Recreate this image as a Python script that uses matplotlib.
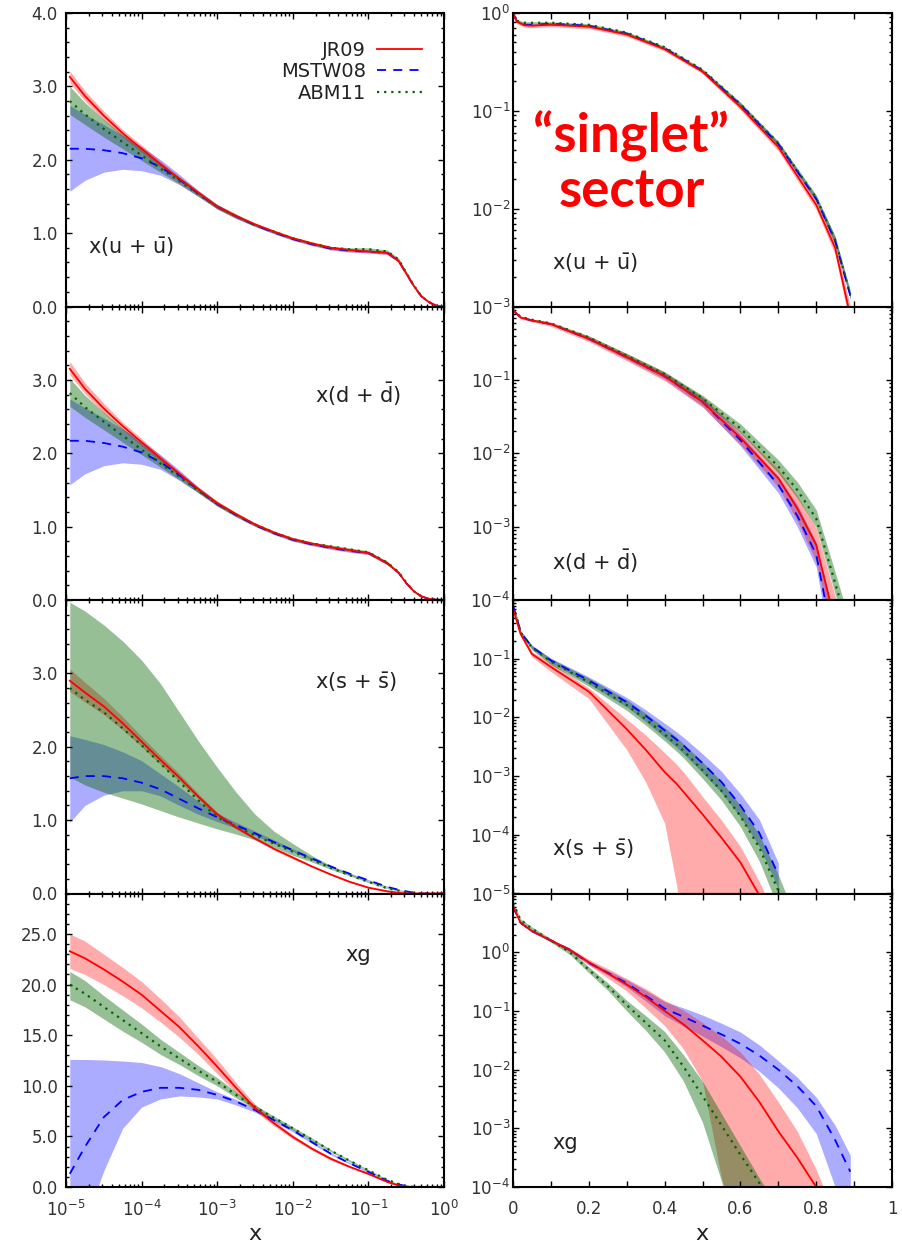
import numpy as np
import matplotlib
matplotlib.use("Agg")
import matplotlib.pyplot as plt
from matplotlib.ticker import MultipleLocator, LogLocator, FuncFormatter, NullFormatter
from matplotlib.lines import Line2D

plt.rcParams["font.family"] = ["DejaVu Sans"]
plt.rcParams["mathtext.fontset"] = "dejavusans"

RED = "#ff0000"
BLUE = "#0000ff"
GREEN = "#006400"

# ---- left column: log10(x) grid, linear y ----
LX = [-4.95, -4.75, -4.5, -4.25, -4.0, -3.75, -3.5, -3.25, -3.0, -2.75, -2.5, -2.25,
      -2.0, -1.75, -1.5, -1.25, -1.0, -0.75, -0.6, -0.5, -0.4, -0.3, -0.2, -0.1, 0.0]

U_JR    = [3.13, 2.87, 2.60, 2.36, 2.15, 1.94, 1.74, 1.55, 1.36, 1.23, 1.12, 1.02, 0.93, 0.86, 0.80, 0.77, 0.75, 0.73, 0.62, 0.45, 0.28, 0.14, 0.06, 0.01, 0.0]
U_JR_LO = [3.05, 2.80, 2.54, 2.31, 2.10, 1.90, 1.71, 1.52, 1.33, 1.21, 1.10, 1.00, 0.91, 0.84, 0.78, 0.75, 0.73, 0.71, 0.60, 0.43, 0.27, 0.13, 0.05, 0.01, 0.0]
U_JR_HI = [3.21, 2.94, 2.66, 2.41, 2.20, 1.98, 1.77, 1.58, 1.39, 1.26, 1.14, 1.04, 0.95, 0.88, 0.82, 0.79, 0.77, 0.75, 0.64, 0.47, 0.29, 0.15, 0.07, 0.01, 0.0]
U_MS    = [2.15, 2.15, 2.13, 2.09, 2.02, 1.90, 1.73, 1.54, 1.36, 1.23, 1.11, 1.01, 0.92, 0.85, 0.79, 0.76, 0.75, 0.73, 0.62, 0.45, 0.28, 0.14, 0.06, 0.01, 0.0]
U_MS_LO = [1.57, 1.72, 1.83, 1.87, 1.85, 1.79, 1.66, 1.50, 1.33, 1.20, 1.09, 0.99, 0.90, 0.83, 0.77, 0.74, 0.73, 0.71, 0.60, 0.44, 0.27, 0.13, 0.05, 0.01, 0.0]
U_MS_HI = [2.74, 2.62, 2.48, 2.33, 2.18, 2.00, 1.80, 1.58, 1.39, 1.25, 1.13, 1.03, 0.94, 0.87, 0.81, 0.78, 0.77, 0.75, 0.64, 0.46, 0.29, 0.15, 0.07, 0.01, 0.0]
U_AB    = [2.80, 2.62, 2.42, 2.24, 2.06, 1.88, 1.71, 1.53, 1.36, 1.23, 1.11, 1.02, 0.93, 0.86, 0.80, 0.78, 0.78, 0.75, 0.64, 0.46, 0.29, 0.14, 0.06, 0.01, 0.0]
U_AB_LO = [2.62, 2.48, 2.31, 2.15, 1.99, 1.83, 1.67, 1.50, 1.33, 1.20, 1.09, 1.00, 0.91, 0.84, 0.78, 0.76, 0.76, 0.73, 0.62, 0.45, 0.28, 0.13, 0.05, 0.01, 0.0]
U_AB_HI = [3.00, 2.78, 2.55, 2.34, 2.14, 1.94, 1.76, 1.57, 1.39, 1.26, 1.13, 1.04, 0.95, 0.88, 0.82, 0.80, 0.80, 0.77, 0.66, 0.48, 0.30, 0.15, 0.07, 0.01, 0.0]

D_JR    = [3.15, 2.88, 2.61, 2.37, 2.15, 1.93, 1.72, 1.51, 1.32, 1.17, 1.03, 0.92, 0.83, 0.77, 0.72, 0.68, 0.64, 0.50, 0.37, 0.23, 0.12, 0.05, 0.015, 0.003, 0.0]
D_JR_LO = [3.07, 2.81, 2.55, 2.32, 2.10, 1.89, 1.69, 1.48, 1.29, 1.14, 1.01, 0.90, 0.81, 0.75, 0.70, 0.66, 0.62, 0.48, 0.36, 0.22, 0.11, 0.04, 0.01, 0.0, 0.0]
D_JR_HI = [3.25, 2.96, 2.68, 2.42, 2.20, 1.97, 1.75, 1.54, 1.35, 1.19, 1.05, 0.94, 0.85, 0.79, 0.74, 0.70, 0.66, 0.52, 0.38, 0.24, 0.13, 0.06, 0.02, 0.005, 0.0]
D_MS    = [2.17, 2.17, 2.14, 2.09, 2.01, 1.88, 1.70, 1.50, 1.31, 1.16, 1.02, 0.91, 0.82, 0.76, 0.71, 0.67, 0.64, 0.50, 0.37, 0.23, 0.12, 0.05, 0.015, 0.003, 0.0]
D_MS_LO = [1.57, 1.72, 1.83, 1.87, 1.85, 1.78, 1.63, 1.46, 1.28, 1.13, 1.00, 0.89, 0.80, 0.74, 0.69, 0.65, 0.62, 0.48, 0.36, 0.22, 0.11, 0.04, 0.01, 0.0, 0.0]
D_MS_HI = [2.74, 2.62, 2.48, 2.33, 2.17, 1.98, 1.77, 1.54, 1.34, 1.18, 1.04, 0.93, 0.84, 0.78, 0.73, 0.69, 0.66, 0.52, 0.38, 0.24, 0.13, 0.06, 0.02, 0.005, 0.0]
D_AB    = [2.82, 2.63, 2.43, 2.24, 2.05, 1.86, 1.68, 1.49, 1.31, 1.16, 1.03, 0.92, 0.83, 0.77, 0.73, 0.69, 0.65, 0.51, 0.38, 0.24, 0.12, 0.05, 0.015, 0.003, 0.0]
D_AB_LO = [2.64, 2.49, 2.32, 2.15, 1.98, 1.81, 1.64, 1.46, 1.28, 1.14, 1.01, 0.90, 0.81, 0.75, 0.71, 0.67, 0.63, 0.49, 0.36, 0.23, 0.11, 0.04, 0.01, 0.0, 0.0]
D_AB_HI = [3.02, 2.79, 2.56, 2.34, 2.13, 1.92, 1.73, 1.53, 1.34, 1.19, 1.05, 0.94, 0.85, 0.79, 0.75, 0.71, 0.67, 0.53, 0.39, 0.25, 0.13, 0.06, 0.02, 0.005, 0.0]

S_JR    = [2.90, 2.74, 2.55, 2.32, 2.07, 1.82, 1.58, 1.32, 1.08, 0.90, 0.75, 0.61, 0.49, 0.37, 0.26, 0.16, 0.08, 0.03, 0.01, 0.0, 0.0, 0.0, 0.0, 0.0, 0.0]
S_JR_LO = [2.75, 2.61, 2.44, 2.23, 2.00, 1.76, 1.53, 1.28, 1.05, 0.88, 0.73, 0.59, 0.47, 0.36, 0.25, 0.15, 0.07, 0.02, 0.005, 0.0, 0.0, 0.0, 0.0, 0.0, 0.0]
S_JR_HI = [3.06, 2.88, 2.66, 2.41, 2.14, 1.88, 1.63, 1.36, 1.11, 0.93, 0.77, 0.63, 0.51, 0.38, 0.27, 0.17, 0.09, 0.04, 0.015, 0.005, 0.0, 0.0, 0.0, 0.0, 0.0]
S_MS    = [1.57, 1.60, 1.60, 1.57, 1.51, 1.42, 1.29, 1.16, 1.04, 0.93, 0.82, 0.70, 0.59, 0.48, 0.37, 0.27, 0.18, 0.09, 0.05, 0.03, 0.01, 0.0, 0.0, 0.0, 0.0]
S_MS_LO = [0.97, 1.20, 1.34, 1.40, 1.40, 1.33, 1.20, 1.08, 0.98, 0.89, 0.79, 0.68, 0.57, 0.46, 0.36, 0.26, 0.17, 0.08, 0.045, 0.025, 0.008, 0.0, 0.0, 0.0, 0.0]
S_MS_HI = [2.15, 2.10, 2.03, 1.93, 1.81, 1.63, 1.45, 1.26, 1.09, 0.97, 0.85, 0.73, 0.61, 0.49, 0.38, 0.28, 0.19, 0.10, 0.055, 0.035, 0.012, 0.0, 0.0, 0.0, 0.0]
S_AB    = [2.80, 2.64, 2.47, 2.25, 2.02, 1.77, 1.52, 1.27, 1.04, 0.91, 0.79, 0.68, 0.57, 0.46, 0.35, 0.25, 0.16, 0.07, 0.04, 0.02, 0.01, 0.0, 0.0, 0.0, 0.0]
S_AB_LO = [1.59, 1.48, 1.38, 1.30, 1.22, 1.13, 1.04, 0.96, 0.88, 0.81, 0.73, 0.63, 0.52, 0.43, 0.33, 0.24, 0.15, 0.065, 0.035, 0.018, 0.008, 0.0, 0.0, 0.0, 0.0]
S_AB_HI = [3.97, 3.85, 3.66, 3.44, 3.18, 2.86, 2.47, 2.08, 1.72, 1.38, 1.08, 0.85, 0.68, 0.52, 0.38, 0.27, 0.17, 0.075, 0.045, 0.022, 0.012, 0.0, 0.0, 0.0, 0.0]

G_JR    = [23.3, 22.6, 21.5, 20.3, 19.0, 17.4, 15.8, 13.9, 11.9, 9.8, 7.8, 6.3, 4.95, 3.8, 2.8, 2.0, 1.3, 0.5, 0.15, 0.05, 0.0, 0.0, 0.0, 0.0, 0.0]
G_JR_LO = [21.6, 21.0, 20.0, 18.9, 17.7, 16.3, 14.8, 13.1, 11.2, 9.3, 7.5, 6.05, 4.75, 3.65, 2.65, 1.9, 1.2, 0.45, 0.12, 0.03, 0.0, 0.0, 0.0, 0.0, 0.0]
G_JR_HI = [25.0, 24.3, 23.0, 21.7, 20.3, 18.6, 16.8, 14.7, 12.6, 10.3, 8.2, 6.6, 5.15, 3.95, 2.95, 2.1, 1.4, 0.55, 0.18, 0.07, 0.01, 0.0, 0.0, 0.0, 0.0]
G_MS    = [1.3, 3.96, 6.9, 8.6, 9.4, 9.8, 9.8, 9.6, 9.1, 8.45, 7.6, 6.6, 5.6, 4.45, 3.3, 2.35, 1.5, 0.6, 0.26, 0.08, 0.0, 0.0, 0.0, 0.0, 0.0]
G_MS_LO = [-8.0, -3.5, 1.6, 5.8, 7.9, 8.7, 9.0, 8.9, 8.7, 8.1, 7.4, 6.45, 5.45, 4.3, 3.2, 2.27, 1.42, 0.55, 0.22, 0.06, 0.0, 0.0, 0.0, 0.0, 0.0]
G_MS_HI = [12.6, 12.6, 12.55, 12.45, 12.3, 11.9, 11.2, 10.3, 9.4, 8.65, 7.8, 6.8, 5.75, 4.55, 3.4, 2.45, 1.58, 0.65, 0.3, 0.1, 0.01, 0.0, 0.0, 0.0, 0.0]
G_AB    = [20.0, 19.1, 17.8, 16.5, 15.2, 13.9, 12.7, 11.5, 10.4, 9.1, 7.9, 6.85, 5.8, 4.7, 3.6, 2.6, 1.65, 0.7, 0.3, 0.1, 0.02, 0.0, 0.0, 0.0, 0.0]
G_AB_LO = [18.5, 17.8, 16.6, 15.4, 14.3, 13.1, 12.1, 11.0, 10.0, 8.8, 7.7, 6.65, 5.65, 4.55, 3.5, 2.5, 1.58, 0.65, 0.27, 0.08, 0.01, 0.0, 0.0, 0.0, 0.0]
G_AB_HI = [21.3, 20.4, 18.9, 17.5, 16.1, 14.6, 13.3, 12.0, 10.8, 9.4, 8.1, 7.0, 5.95, 4.85, 3.7, 2.7, 1.72, 0.75, 0.33, 0.12, 0.03, 0.0, 0.0, 0.0, 0.0]

# ---- right column: linear x, log10(y) values ----
RX1 = [0.0, 0.01, 0.03, 0.05, 0.1, 0.2, 0.3, 0.4, 0.5, 0.6, 0.7, 0.8, 0.85, 0.89]
R1_JR    = [0.0, -0.09, -0.125, -0.13, -0.12, -0.14, -0.22, -0.37, -0.60, -0.96, -1.37, -1.96, -2.40, -3.10]
R1_JR_LO = [-0.02, -0.11, -0.145, -0.15, -0.14, -0.16, -0.24, -0.39, -0.62, -0.99, -1.41, -2.01, -2.47, -3.20]
R1_JR_HI = [0.02, -0.07, -0.105, -0.11, -0.10, -0.12, -0.20, -0.35, -0.58, -0.93, -1.33, -1.91, -2.33, -3.00]
R1_MS    = [0.0, -0.08, -0.12, -0.12, -0.11, -0.13, -0.21, -0.36, -0.59, -0.94, -1.34, -1.90, -2.33, -2.89]
R1_MS_LO = [-0.01, -0.09, -0.13, -0.13, -0.12, -0.14, -0.22, -0.37, -0.60, -0.96, -1.36, -1.93, -2.37, -2.93]
R1_MS_HI = [0.01, -0.07, -0.11, -0.11, -0.10, -0.12, -0.20, -0.35, -0.58, -0.92, -1.32, -1.87, -2.29, -2.85]
R1_AB    = [-0.02, -0.08, -0.10, -0.10, -0.10, -0.12, -0.20, -0.35, -0.58, -0.93, -1.33, -1.89, -2.32, -2.88]
R1_AB_LO = [-0.03, -0.09, -0.11, -0.11, -0.11, -0.13, -0.21, -0.36, -0.59, -0.95, -1.35, -1.92, -2.36, -2.92]
R1_AB_HI = [-0.01, -0.07, -0.09, -0.09, -0.09, -0.11, -0.19, -0.34, -0.57, -0.91, -1.31, -1.86, -2.28, -2.84]

RX2 = [0.0, 0.02, 0.05, 0.1, 0.2, 0.3, 0.4, 0.5, 0.6, 0.7, 0.75, 0.8, 0.85, 0.88]
R2_JR    = [-0.05, -0.15, -0.19, -0.24, -0.44, -0.69, -0.95, -1.30, -1.79, -2.34, -2.75, -3.25, -4.30, -5.0]
R2_JR_LO = [-0.07, -0.17, -0.21, -0.27, -0.48, -0.74, -1.01, -1.37, -1.88, -2.46, -2.92, -3.48, -4.65, -5.5]
R2_JR_HI = [-0.03, -0.13, -0.17, -0.21, -0.40, -0.64, -0.89, -1.23, -1.70, -2.22, -2.58, -3.02, -3.95, -4.6]
R2_MS    = [-0.05, -0.15, -0.19, -0.24, -0.44, -0.69, -0.95, -1.30, -1.82, -2.43, -2.85, -3.38, -4.70, -5.5]
R2_MS_LO = [-0.06, -0.16, -0.20, -0.25, -0.46, -0.72, -0.99, -1.36, -1.90, -2.54, -3.00, -3.55, -5.00, -5.8]
R2_MS_HI = [-0.04, -0.14, -0.18, -0.23, -0.42, -0.66, -0.91, -1.24, -1.74, -2.32, -2.70, -3.21, -4.40, -5.2]
R2_AB    = [-0.05, -0.14, -0.18, -0.23, -0.42, -0.67, -0.92, -1.25, -1.66, -2.18, -2.50, -2.89, -3.77, -4.30]
R2_AB_LO = [-0.06, -0.15, -0.19, -0.24, -0.44, -0.70, -0.95, -1.29, -1.72, -2.27, -2.61, -3.01, -3.92, -4.45]
R2_AB_HI = [-0.04, -0.13, -0.17, -0.22, -0.40, -0.64, -0.89, -1.21, -1.60, -2.09, -2.39, -2.77, -3.62, -4.15]

NAN = float("nan")
RX3 = [0.0, 0.01, 0.02, 0.05, 0.1, 0.2, 0.3, 0.35, 0.4, 0.43, 0.45, 0.5, 0.55, 0.6, 0.65, 0.7, 0.72]
R3_JR    = [-0.15, -0.36, -0.58, -0.92, -1.14, -1.56, -2.20, -2.55, -2.93, -3.12, -3.27, -3.65, -4.05, -4.47, -5.03, -5.6, -5.9]
R3_JR_LO = [-0.18, -0.39, -0.61, -0.97, -1.22, -1.68, -2.55, -3.10, -3.80, -4.80, -5.6, -6.5, -7.0, -7.0, -7.0, -7.0, -7.0]
R3_JR_HI = [-0.12, -0.33, -0.55, -0.88, -1.07, -1.50, -2.03, -2.30, -2.60, -2.79, -2.93, -3.35, -3.75, -4.20, -4.80, -5.5, -5.8]
R3_MS    = [-0.10, -0.30, -0.55, -0.80, -1.03, -1.37, -1.74, -1.97, -2.22, -2.37, -2.48, -2.78, -3.10, -3.50, -3.97, -4.68, NAN]
R3_MS_LO = [-0.12, -0.32, -0.57, -0.83, -1.07, -1.43, -1.82, -2.07, -2.34, -2.50, -2.62, -2.94, -3.28, -3.70, -4.20, -4.92, NAN]
R3_MS_HI = [-0.08, -0.28, -0.53, -0.77, -0.99, -1.31, -1.66, -1.87, -2.10, -2.24, -2.34, -2.62, -2.92, -3.30, -3.74, -4.48, NAN]
R3_AB    = [-0.10, -0.30, -0.55, -0.81, -1.05, -1.40, -1.79, -2.03, -2.29, -2.45, -2.57, -2.90, -3.25, -3.68, -4.22, -4.95, -5.3]
R3_AB_LO = [-0.12, -0.33, -0.58, -0.85, -1.10, -1.47, -1.88, -2.13, -2.40, -2.57, -2.69, -3.04, -3.41, -3.86, -4.45, -5.25, -5.6]
R3_AB_HI = [-0.08, -0.27, -0.52, -0.77, -1.00, -1.33, -1.70, -1.93, -2.18, -2.33, -2.45, -2.76, -3.09, -3.50, -4.00, -4.68, -5.0]

RX4 = [0.0, 0.02, 0.05, 0.1, 0.15, 0.2, 0.25, 0.3, 0.35, 0.4, 0.45, 0.5, 0.55, 0.6, 0.65, 0.7, 0.75, 0.8, 0.85, 0.89]
R4_JR    = [0.78, 0.50, 0.36, 0.20, 0.04, -0.17, -0.36, -0.55, -0.76, -1.00, -1.23, -1.50, -1.78, -2.12, -2.55, -3.05, -3.50, -4.00, -4.60, -5.0]
R4_JR_LO = [0.76, 0.48, 0.34, 0.18, 0.01, -0.22, -0.44, -0.66, -0.95, -1.25, -1.65, -2.20, -3.85, -5.0, -6.0, -6.0, -6.0, -6.0, -6.0, -6.0]
R4_JR_HI = [0.80, 0.52, 0.38, 0.22, 0.07, -0.12, -0.28, -0.45, -0.62, -0.82, -0.99, -1.20, -1.43, -1.70, -2.08, -2.55, -3.05, -3.70, -4.50, -5.0]
R4_MS    = [0.78, 0.50, 0.36, 0.20, 0.04, -0.18, -0.35, -0.53, -0.74, -0.96, -1.10, -1.25, -1.40, -1.56, -1.76, -2.00, -2.28, -2.62, -3.20, -3.74]
R4_MS_LO = [0.76, 0.48, 0.34, 0.18, 0.01, -0.21, -0.39, -0.59, -0.83, -1.08, -1.26, -1.43, -1.61, -1.80, -2.03, -2.31, -2.65, -3.09, -4.00, -4.40]
R4_MS_HI = [0.80, 0.52, 0.38, 0.22, 0.07, -0.15, -0.31, -0.47, -0.65, -0.84, -0.95, -1.07, -1.21, -1.36, -1.58, -1.85, -2.13, -2.47, -2.95, -3.46]
R4_AB    = [0.84, 0.55, 0.40, 0.20, 0.00, -0.30, -0.58, -0.90, -1.20, -1.50, -1.95, -2.45, -2.95, -3.45, -3.93, -4.40, -5.0, NAN, NAN, NAN]
R4_AB_LO = [0.82, 0.53, 0.37, 0.17, -0.04, -0.35, -0.65, -1.00, -1.33, -1.70, -2.20, -2.90, -3.90, -5.0, -6.0, -6.0, -6.0, NAN, NAN, NAN]
R4_AB_HI = [0.86, 0.57, 0.43, 0.23, 0.04, -0.25, -0.52, -0.82, -1.08, -1.35, -1.75, -2.20, -2.75, -3.30, -3.85, -4.35, -5.0, NAN, NAN, NAN]

LEFT_YMAX = [4.0, 4.0, 4.0, 29.0]
RIGHT_YLIM = [(-3, 0), (-4, 0), (-5, 0), (-4, 1)]
LEFT_LABELS = [r"x(u + $\bar{\mathrm{u}}$)", r"x(d + $\bar{\mathrm{d}}$)", r"x(s + $\bar{\mathrm{s}}$)", "xg"]
LEFT_LABEL_POS = [(0.058, 0.20), (0.659, 0.70), (0.659, 0.72), (0.738, 0.79)]
RIGHT_LABEL_POS = [(0.103, 0.147), (0.103, 0.13), (0.103, 0.15), (0.103, 0.15)]


def draw(ax, xs, jr, jr_lo, jr_hi, ms, ms_lo, ms_hi, ab, ab_lo, ab_hi, logy):
    if logy:
        conv = lambda a: np.power(10.0, np.asarray(a, dtype=float))
    else:
        conv = lambda a: np.asarray(a, dtype=float)
    ax.fill_between(xs, conv(ms_lo), conv(ms_hi), color=BLUE, alpha=0.33, lw=0)
    ax.fill_between(xs, conv(jr_lo), conv(jr_hi), color=RED, alpha=0.33, lw=0)
    ax.fill_between(xs, conv(ab_lo), conv(ab_hi), color=GREEN, alpha=0.41, lw=0)
    ax.plot(xs, conv(ms), color=BLUE, ls=(0, (5, 4)), lw=1.3)
    ax.plot(xs, conv(ab), color=GREEN, ls=(0, (1, 2.2)), lw=1.6)
    ax.plot(xs, conv(jr), color=RED, lw=1.3)


def style(ax):
    for s in ax.spines.values():
        s.set_linewidth(1.5)
    ax.tick_params(which="both", direction="in", top=True, right=True,
                   labelsize=12, labelcolor="#333333", width=1)
    ax.tick_params(which="major", length=4)
    ax.tick_params(which="minor", length=2.5)


W, H = 902, 1248
fig = plt.figure(figsize=(W / 100, H / 100), dpi=100)
top_px, bot_px = 13, 1187
row_h = (bot_px - top_px) / 4

left_data = [
    (U_JR, U_JR_LO, U_JR_HI, U_MS, U_MS_LO, U_MS_HI, U_AB, U_AB_LO, U_AB_HI),
    (D_JR, D_JR_LO, D_JR_HI, D_MS, D_MS_LO, D_MS_HI, D_AB, D_AB_LO, D_AB_HI),
    (S_JR, S_JR_LO, S_JR_HI, S_MS, S_MS_LO, S_MS_HI, S_AB, S_AB_LO, S_AB_HI),
    (G_JR, G_JR_LO, G_JR_HI, G_MS, G_MS_LO, G_MS_HI, G_AB, G_AB_LO, G_AB_HI),
]
right_data = [
    (RX1, R1_JR, R1_JR_LO, R1_JR_HI, R1_MS, R1_MS_LO, R1_MS_HI, R1_AB, R1_AB_LO, R1_AB_HI),
    (RX2, R2_JR, R2_JR_LO, R2_JR_HI, R2_MS, R2_MS_LO, R2_MS_HI, R2_AB, R2_AB_LO, R2_AB_HI),
    (RX3, R3_JR, R3_JR_LO, R3_JR_HI, R3_MS, R3_MS_LO, R3_MS_HI, R3_AB, R3_AB_LO, R3_AB_HI),
    (RX4, R4_JR, R4_JR_LO, R4_JR_HI, R4_MS, R4_MS_LO, R4_MS_HI, R4_AB, R4_AB_LO, R4_AB_HI),
]

lx = np.power(10.0, np.asarray(LX))

for i in range(4):
    y0 = 1 - (top_px + (i + 1) * row_h) / H
    h = row_h / H
    hide_top = i > 0

    # left panel
    ax = fig.add_axes([66 / W, y0, (444 - 66) / W, h])
    draw(ax, lx, *left_data[i], logy=False)
    ax.set_xscale("log")
    ax.set_xlim(1e-5, 1)
    ymax = LEFT_YMAX[i]
    ax.set_ylim(0, ymax)
    if i == 3:
        ax.yaxis.set_major_locator(MultipleLocator(5))
        ax.yaxis.set_minor_locator(MultipleLocator(1))
    else:
        ax.yaxis.set_major_locator(MultipleLocator(1))
        ax.yaxis.set_minor_locator(MultipleLocator(0.2))
    ax.yaxis.set_major_formatter(FuncFormatter(
        lambda v, p, m=ymax, ht=hide_top: "" if (ht and abs(v - m) < 1e-6) else f"{v:.1f}"))
    ax.xaxis.set_major_locator(LogLocator(base=10, numticks=10))
    ax.xaxis.set_minor_locator(LogLocator(base=10, subs=np.arange(2, 10), numticks=10))
    ax.xaxis.set_minor_formatter(NullFormatter())
    if i < 3:
        ax.xaxis.set_major_formatter(NullFormatter())
    style(ax)
    ax.tick_params(axis="x", pad=9)
    ax.tick_params(axis="y", pad=6)
    ax.text(*LEFT_LABEL_POS[i], LEFT_LABELS[i], transform=ax.transAxes,
            ha="left", va="center", fontsize=15, color="#222222")
    if i == 0:
        handles = [Line2D([], [], color=RED, lw=1.3),
                   Line2D([], [], color=BLUE, lw=1.3, ls=(0, (5, 4))),
                   Line2D([], [], color=GREEN, lw=1.6, ls=(0, (1, 2.2)))]
        ax.legend(handles, ["JR09", "MSTW08", "ABM11"], loc="upper right",
                  bbox_to_anchor=(0.942, 0.905), markerfirst=False, frameon=False,
                  fontsize=14, handlelength=2.3, handletextpad=0.6,
                  labelspacing=0.12, borderpad=0, borderaxespad=0,
                  labelcolor="#222222")

    # right panel
    ax = fig.add_axes([513 / W, y0, (892 - 513) / W, h])
    rx = right_data[i][0]
    draw(ax, rx, *right_data[i][1:], logy=True)
    ax.set_yscale("log")
    lo, hi = RIGHT_YLIM[i]
    ax.set_ylim(10.0 ** lo, 10.0 ** hi)
    ax.set_xlim(0, 1)
    ax.xaxis.set_major_locator(MultipleLocator(0.2))
    ax.xaxis.set_minor_locator(MultipleLocator(0.1))
    ax.yaxis.set_major_locator(LogLocator(base=10, numticks=12))
    ax.yaxis.set_minor_locator(LogLocator(base=10, subs=np.arange(2, 10), numticks=12))
    ax.yaxis.set_minor_formatter(NullFormatter())
    ax.yaxis.set_major_formatter(FuncFormatter(
        lambda v, p, t=hi, ht=hide_top: "" if (ht and abs(np.log10(v) - t) < 1e-6)
        else r"$10^{%d}$" % int(round(np.log10(v)))))
    if i < 3:
        ax.xaxis.set_major_formatter(NullFormatter())
    else:
        ax.xaxis.set_major_formatter(FuncFormatter(lambda v, p: f"{v:g}"))
    style(ax)
    ax.tick_params(which="minor", axis="x", length=4)
    ax.tick_params(axis="x", pad=9)
    ax.tick_params(axis="y", pad=2)
    ax.text(*RIGHT_LABEL_POS[i], LEFT_LABELS[i], transform=ax.transAxes,
            ha="left", va="center", fontsize=15, color="#222222")

fig.text(255 / W, 1 - 1234 / H, "x", ha="center", va="center", fontsize=16, color="#222222")
fig.text(702 / W, 1 - 1234 / H, "x", ha="center", va="center", fontsize=16, color="#222222")

fig.text(631 / W, 1 - 153 / H, "\u201csinglet\u201d", ha="center", va="baseline",
         fontsize=38, fontweight="bold", color=RED, family=["Lato", "DejaVu Sans"])
fig.text(632 / W, 1 - 207 / H, "sector", ha="center", va="baseline",
         fontsize=38, fontweight="bold", color=RED, family=["Lato", "DejaVu Sans"])

fig.savefig("out.png", dpi=100)
